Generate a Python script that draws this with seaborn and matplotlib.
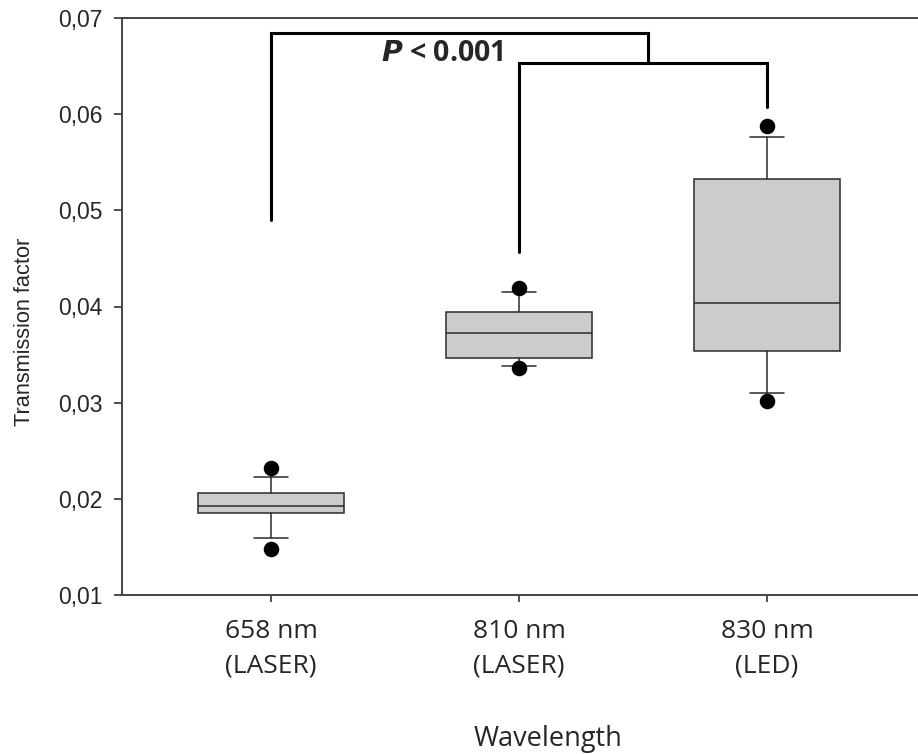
import matplotlib
matplotlib.use("Agg")
import matplotlib.pyplot as plt
import seaborn as sns
import pandas as pd

# box statistics
categories = ["658 nm\n(LASER)", "810 nm\n(LASER)", "830 nm\n(LED)"]
q1 = [0.01856, 0.0346, 0.03537]
medians = [0.01926, 0.0372, 0.04033]
q3 = [0.02058, 0.0394, 0.05326]
whisker_low = [0.01596, 0.03385, 0.03097]
whisker_high = [0.02230, 0.0415, 0.05766]
flier_low = [0.01475, 0.0336, 0.03017]
flier_high = [0.02324, 0.0419, 0.05877]

# significance brackets (y levels of the bracket ends)
bracket_top = 0.0684
bracket_mid = 0.0653
bracket_left_end = 0.0490
bracket_810_end = 0.0457
bracket_830_end = 0.0607
p_label = "$\\boldsymbol{P}$ < 0.001"

yticks = [0.01, 0.02, 0.03, 0.04, 0.05, 0.06, 0.07]
ytick_labels = ["0,01", "0,02", "0,03", "0,04", "0,05", "0,06", "0,07"]

sns.set_style("ticks")
plt.rcParams["font.family"] = ["Liberation Sans", "DejaVu Sans"]
calibri_like = ["Open Sans", "DejaVu Sans"]

fig = plt.figure(figsize=(9.18, 7.54), dpi=100)
ax = fig.add_axes([122 / 918, 159 / 754, 805 / 918, 577 / 754])

positions = list(range(len(categories)))
stats = []
for i in positions:
    stats.append({
        "med": medians[i], "q1": q1[i], "q3": q3[i],
        "whislo": whisker_low[i], "whishi": whisker_high[i],
        "fliers": [],
    })

edge = "#2b2b2b"
ax.bxp(stats, positions=positions, widths=0.59, patch_artist=True,
       showfliers=False,
       boxprops=dict(facecolor="#cccccc", edgecolor=edge, linewidth=1.1),
       medianprops=dict(color=edge, linewidth=1.1),
       whiskerprops=dict(color=edge, linewidth=1.1),
       capprops=dict(color=edge, linewidth=1.1), capwidths=0.135)

fl = pd.DataFrame({
    "x": positions + positions,
    "y": flier_low + flier_high,
})
sns.scatterplot(data=fl, x="x", y="y", color="black", s=125,
                edgecolor="black", linewidth=0, ax=ax, zorder=5)

# brackets
lw = 2.2
ax.plot([0, 0, 1.52, 1.52], [bracket_left_end, bracket_top, bracket_top, bracket_mid],
        color="black", lw=lw, solid_joinstyle="miter", clip_on=False)
ax.plot([1, 1, 2, 2], [bracket_810_end, bracket_mid, bracket_mid, bracket_830_end],
        color="black", lw=lw, solid_joinstyle="miter", clip_on=False)
ax.text(0.69, 0.0663, p_label, ha="center", va="center", fontsize=20.5,
        fontweight="bold", family=calibri_like)

ax.set_xlim(-0.601, 2.645)
ax.set_ylim(0.01, 0.07)
ax.set_xticks(positions)
ax.set_xticklabels(categories, family=calibri_like, fontsize=19,
                   linespacing=1.5)
ax.set_yticks(yticks)
ax.set_yticklabels(ytick_labels, fontsize=16.5)
ax.tick_params(axis="y", length=6, width=1.2, pad=8, color="#333333")
ax.tick_params(axis="x", length=5, width=1.2, pad=12, color="#333333")

for side in ["left", "bottom", "top"]:
    ax.spines[side].set_linewidth(1.4)
    ax.spines[side].set_color("#444444")
ax.spines["right"].set_visible(False)

ax.set_xlabel("Wavelength", fontsize=19.5, family=calibri_like)
ax.xaxis.set_label_coords((548 - 122) / 805, -(725 - 595) / 577, transform=ax.transAxes)
ax.xaxis.label.set_va("top")
ax.set_ylabel("Transmission factor", fontsize=15.7)
ax.yaxis.set_label_coords(-(122 - 24) / 805, (754 - 159 - 332) / 577, transform=ax.transAxes)
ax.yaxis.label.set_ha("center")
ax.yaxis.label.set_va("center")

fig.savefig("out.png", dpi=100)
